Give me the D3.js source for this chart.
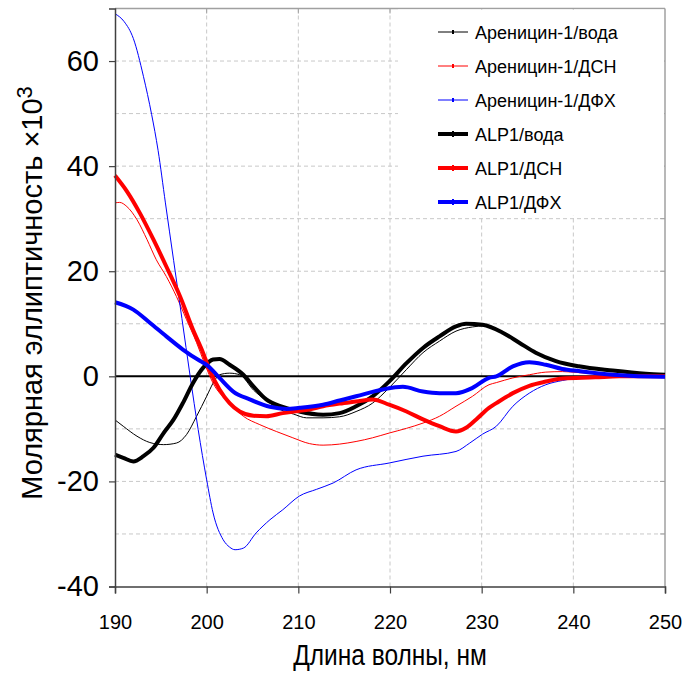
<!DOCTYPE html>
<html><head><meta charset="utf-8">
<script src="https://cdn.jsdelivr.net/npm/d3@7"></script>
<style>body{margin:0;background:#fff}svg{display:block}text{font-family:"Liberation Sans",Arial,sans-serif}</style>
</head><body>
<svg id="c" width="686" height="673"></svg>
<script>
const xTicks = [190,200,210,220,230,240,250];
const yTicks = [-40,-20,0,20,40,60];
const seriesNames = ["Ареницин-1/вода","Ареницин-1/ДСН","Ареницин-1/ДФХ","ALP1/вода","ALP1/ДСН","ALP1/ДФХ"];
const seriesColors = ["#000","#ff0000","#0000ff","#000","#ff0000","#0000ff"];
const seriesWidths = [1,1,1,4,4,4];

const arVoda = [[190,-8.3],[190.9,-9.5],[192.4,-11.4],[193.8,-12.6],[195.3,-13],[196.7,-12.7],[197.8,-11.1],[198.9,-7.6],[200,-3.8],[200.7,-1.3],[201.4,0.3],[202.5,0.6],[203.6,0.3],[205.1,-2.6],[206.5,-4.6],[208,-6.3],[209.5,-7.2],[210.9,-7.9],[212.7,-7.9],[214.5,-7.7],[216.3,-6.7],[218.1,-5.1],[219.9,-2.2],[221.8,1.3],[223.6,4.5],[225.4,6.7],[227.2,8.6],[229,9.4],[230.3,9.6],[232.3,8.3],[234.1,6.4],[235.9,4.5],[238.1,2.9],[240.6,1.9],[244.3,1.1],[247.9,0.5],[250,0.3]];
const arDSN = [[190,33],[190.5,33.1],[191.3,32.3],[192.4,29.8],[193.5,26],[194.5,22.2],[195.6,19],[196.7,15.2],[197.8,10.8],[198.9,6.4],[199.8,2.3],[200.7,-1.3],[202.5,-5.1],[204,-7.6],[205.8,-9.2],[207.6,-10.5],[209.4,-11.7],[211.2,-12.8],[212.7,-13.1],[214.5,-12.9],[216.3,-12.4],[218.1,-11.7],[219.9,-10.8],[221.8,-9.9],[223.6,-8.9],[225.4,-7.6],[227.2,-5.7],[229,-3.8],[230.8,-1.6],[231.6,-1.2],[233.4,-0.3],[235.2,0.3],[237,0.8],[238.8,0.9],[240.6,0.7],[242.4,0.5],[245,0.1],[250,0]];
const arDFX = [[190,69],[191,67.5],[192,64.3],[193.1,57.1],[194,49.8],[194.7,43],[195.5,33],[196.4,22],[197.3,11],[198.2,0],[199.07,-10.1],[200,-19.7],[200.7,-26],[201.8,-31.1],[202.5,-32.5],[203.1,-33],[204,-32.7],[205.4,-29.8],[206.9,-27.3],[208.3,-25.4],[210.1,-22.8],[212,-21.5],[213.8,-20.3],[216.3,-17.8],[219.9,-16.5],[223.6,-15.2],[227.2,-14.3],[228.7,-12.7],[230.1,-11],[231.6,-9.5],[233.4,-5.7],[235.2,-3.2],[237,-1.6],[238.8,-0.8],[240.6,-0.3],[243,-0.1],[250,0]];
const alpVoda = [[190,-14.9],[190.9,-15.5],[192,-16.2],[193.1,-15.2],[194.2,-13.6],[195.3,-10.8],[196.4,-8.2],[197.4,-5.1],[198.5,-1.3],[199.6,1.6],[200.7,3.2],[201.4,3.3],[202.5,2.2],[204,0.3],[205.1,-1.9],[206.5,-4.4],[208.3,-5.8],[210.1,-6.7],[212.7,-7.3],[214.5,-7],[216.3,-5.7],[218.1,-3.8],[219.9,-1],[221.8,2.5],[223.6,5.4],[225.4,7.6],[227.2,9.5],[228.3,10],[230.1,9.8],[232.3,8.3],[234.1,6.4],[235.9,4.5],[238.1,2.9],[240.6,1.9],[244.3,1.1],[247.9,0.5],[250,0.3]];
const alpDSN = [[190,38.2],[191.3,35.2],[192.7,31.1],[194.2,26],[195.6,20.9],[197.1,15.2],[198.5,8.9],[199.6,4.5],[200.3,1.3],[201.4,-2.5],[202.5,-5.1],[203.6,-6.7],[205.1,-7.5],[206.5,-7.6],[208.3,-7],[210,-6.6],[211.2,-6.3],[212.7,-5.7],[214.5,-5.2],[216.3,-4.8],[218.1,-4.4],[219.9,-5.4],[221.8,-6.7],[223.6,-8.2],[225.4,-9.5],[227.2,-10.5],[228.3,-9.8],[229.4,-8.2],[230.8,-6],[231.6,-5.1],[233.4,-3.2],[235.2,-1.8],[237,-1],[238.8,-0.4],[242.4,-0.2],[245,0],[250,0]];
const alpDFX = [[190,14.1],[192,12.7],[193.8,10.2],[195.6,7.6],[197.4,5.1],[199.3,2.9],[200,2.2],[201.4,-0.3],[202.9,-2.9],[204.7,-4.4],[206.9,-5.8],[208.7,-6.2],[210.1,-6],[212.7,-5.4],[214.5,-4.6],[216.3,-3.8],[219.2,-2.5],[221.4,-2],[223.6,-2.9],[225.4,-3.2],[227.2,-3.2],[229,-2.2],[230.8,-0.3],[231.6,0],[233.4,1.9],[235.2,2.7],[237,2.2],[238.8,1.4],[240.6,1],[244.3,0.3],[249.7,-0.1],[250,-0.1]];
const seriesData = [arVoda, arDSN, arDFX, alpVoda, alpDSN, alpDFX];

const svg = d3.select("#c");
const L=115, R=665, T=8.5, B=586.5;
const x = d3.scaleLinear().domain([190,250]).range([L,R]);
const y = d3.scaleLinear().domain([-40,70]).range([B,T]);

// grid
const g = svg.append("g");
g.selectAll(".vg").data(d3.range(200,250,10)).join("line")
  .attr("x1",d=>x(d)).attr("x2",d=>x(d)).attr("y1",T).attr("y2",B)
  .attr("stroke","#c8c8c8").attr("stroke-dasharray","4,3");
g.selectAll(".hg").data(d3.range(-30,71,10).filter(v=>v!==0)).join("line")
  .attr("x1",L).attr("x2",R).attr("y1",d=>y(d)).attr("y2",d=>y(d))
  .attr("stroke","#c8c8c8").attr("stroke-dasharray","4,3");

// zero line
svg.append("line").attr("x1",L).attr("x2",R).attr("y1",y(0)).attr("y2",y(0)).attr("stroke","#000").attr("stroke-width",2);

// top/right frame
svg.append("line").attr("x1",L).attr("x2",R).attr("y1",T).attr("y2",T).attr("stroke","#a0a0a0").attr("stroke-width",1.5);
svg.append("line").attr("x1",R).attr("x2",R).attr("y1",T).attr("y2",B).attr("stroke","#a0a0a0").attr("stroke-width",1.5);
svg.selectAll(".tt").data(d3.range(200,250,10)).join("line")
  .attr("x1",d=>x(d)).attr("x2",d=>x(d)).attr("y1",T).attr("y2",T+5).attr("stroke","#a0a0a0");
svg.selectAll(".rt").data(d3.range(-30,71,10)).join("line")
  .attr("x1",R-5).attr("x2",R).attr("y1",d=>y(d)).attr("y2",d=>y(d)).attr("stroke","#a0a0a0");

// legend background
svg.append("rect").attr("x",398).attr("y",T+1).attr("width",R-399).attr("height",206).attr("fill","#fff");

// curves
const line = d3.line().x(d=>x(d[0])).y(d=>y(d[1])).curve(d3.curveMonotoneX);
seriesData.forEach((data,i)=>{
  svg.append("path").datum(data).attr("d",line).attr("fill","none")
    .attr("stroke",seriesColors[i]).attr("stroke-width",seriesWidths[i]).attr("stroke-linejoin","round");
});

// axes
const xAxis = svg.append("g").attr("transform",`translate(0,${B})`)
  .call(d3.axisBottom(x).tickValues(xTicks).tickSize(7).tickPadding(21).tickFormat(d3.format("d")));
const yAxis = svg.append("g").attr("transform",`translate(${L},0)`)
  .call(d3.axisLeft(y).tickValues(yTicks).tickSize(6).tickPadding(10).tickFormat(d=>d<0?"-"+Math.abs(d):d));
[xAxis,yAxis].forEach(a=>{
  a.select(".domain").attr("stroke","#404040").attr("stroke-width",1.5);
  a.selectAll(".tick line").attr("stroke","#404040").attr("stroke-width",1.2);
  a.selectAll("text").attr("fill","#000").attr("font-family","Liberation Sans, Arial, sans-serif");
});
xAxis.selectAll("text").attr("font-size",20);
yAxis.selectAll("text").attr("font-size",29);

// axis titles
svg.append("text").attr("transform","translate(390,665) scale(1,1.24)").attr("text-anchor","middle").attr("font-size",24.5).text("Длина волны, нм");
const yt = svg.append("text").attr("transform","translate(42,293) rotate(-90)").attr("text-anchor","middle").attr("font-size",29);
yt.append("tspan").text("Молярная эллиптичность ×10");
yt.append("tspan").attr("dy",-10).attr("font-size",22).text("3");

// legend
const lg = svg.append("g");
seriesNames.forEach((n,i)=>{
  const yy = 32 + i*34;
  lg.append("line").attr("x1",438).attr("x2",468).attr("y1",yy).attr("y2",yy)
    .attr("stroke",seriesColors[i]).attr("stroke-width",seriesWidths[i]);
  lg.append("rect").attr("x",452).attr("y",yy-(seriesWidths[i]>1?3:2)).attr("width",2).attr("height",seriesWidths[i]>1?6:4).attr("fill",seriesColors[i]);
  lg.append("text").attr("x",475).attr("y",yy+6.5).attr("font-size",18).text(n);
});
</script>
</body></html>
